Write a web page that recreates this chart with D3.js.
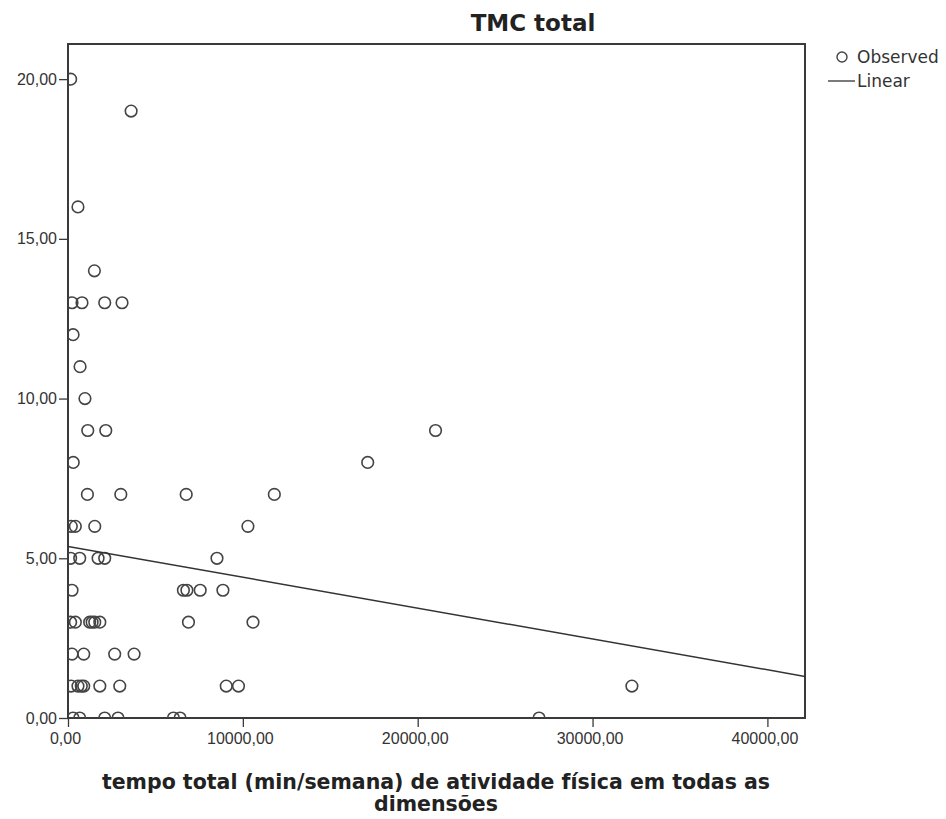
<!DOCTYPE html>
<html>
<head>
<meta charset="utf-8">
<script src="https://cdn.jsdelivr.net/npm/d3@7"></script>
<style>
  html, body { margin: 0; padding: 0; background: #ffffff; }
  svg { display: block; font-family: "Liberation Sans", Arial, sans-serif; }
</style>
</head>
<body>
<svg id="chart" width="946" height="819"></svg>
<script>
// ---- data ----
const chartTitle = "TMC total";
const xAxisTitle = ["tempo total (min/semana) de atividade física em todas as", "dimensões"];
const xTickValues = [0, 10000, 20000, 30000, 40000];
const yTickValues = [0, 5, 10, 15, 20];
const legendLabels = ["Observed", "Linear"];

// observed points: time (min/week), TMC total
const timeValues = [
  150, 3610, 570, 1510,
  230, 800, 2100, 3090,
  290, 690, 970,
  1130, 2160, 21020,
  300, 17140,
  1110, 3020, 6760, 11800,
  190, 420, 1530, 10290,
  150, 670, 1720, 2100, 8520,
  230, 6600, 6800, 7560, 8860,
  150, 420, 1240, 1380, 1530, 1820, 6890, 10580,
  230, 900, 2670, 3780,
  180, 570, 760, 900, 1820, 2960, 9050, 9750, 32250,
  290, 670, 2100, 2860, 6030, 6410, 26940
];
const tmcValues = [
  20, 19, 16, 14,
  13, 13, 13, 13,
  12, 11, 10,
  9, 9, 9,
  8, 8,
  7, 7, 7, 7,
  6, 6, 6, 6,
  5, 5, 5, 5, 5,
  4, 4, 4, 4, 4,
  3, 3, 3, 3, 3, 3, 3, 3,
  2, 2, 2, 2,
  1, 1, 1, 1, 1, 1, 1, 1, 1,
  0, 0, 0, 0, 0, 0, 0
];
// fitted linear model as shown
const linearIntercept = 5.37;
const linearSlope = -0.0000965;
const xDomain = [0, 42150];
const yDomain = [0, 21.1];

// ---- layout ----
const svg = d3.select("#chart");
const L = 68, T = 44, R = 805, B = 718;
const ink = "#3a3a3a";

const x = d3.scaleLinear().domain(xDomain).range([L, R]);
const y = d3.scaleLinear().domain(yDomain).range([B, T]);

svg.append("defs").append("clipPath").attr("id", "plotclip")
  .append("rect").attr("x", L).attr("y", T).attr("width", R - L).attr("height", B - T);

const fmt = d => d3.format(".2f")(d).replace(".", ",");

// axes
const xAxis = svg.append("g").attr("transform", `translate(0,${B})`)
  .call(d3.axisBottom(x).tickValues(xTickValues).tickSize(9).tickPadding(6).tickFormat(fmt));
const yAxis = svg.append("g").attr("transform", `translate(${L},0)`)
  .call(d3.axisLeft(y).tickValues(yTickValues).tickSize(9).tickPadding(2).tickFormat(fmt));
[xAxis, yAxis].forEach(g => {
  g.select(".domain").remove();
  g.selectAll(".tick line").attr("stroke", ink).attr("stroke-width", 1.3);
  g.selectAll(".tick text").attr("fill", "#333").style("font-size", "16px")
    .style("font-family", "'Liberation Sans', Arial, sans-serif");
});
xAxis.selectAll(".tick text").attr("dx", "-3");

// frame
svg.append("rect").attr("x", L).attr("y", T).attr("width", R - L).attr("height", B - T)
  .attr("fill", "none").attr("stroke", ink).attr("stroke-width", 2);

const plot = svg.append("g").attr("clip-path", "url(#plotclip)");

// points
const pts = timeValues.map((t, i) => ({ t, v: tmcValues[i] }));
plot.selectAll("circle.obs").data(pts).join("circle")
  .attr("class", "obs")
  .attr("cx", d => x(d.t)).attr("cy", d => y(d.v)).attr("r", 5.8)
  .attr("fill", "none").attr("stroke", "#444").attr("stroke-width", 1.6);

// linear fit
const lineData = xDomain.map(t => ({ t, v: linearIntercept + linearSlope * t }));
plot.append("path").datum(lineData)
  .attr("d", d3.line().x(d => x(d.t)).y(d => y(d.v)))
  .attr("fill", "none").attr("stroke", "#333").attr("stroke-width", 1.5);

// title
svg.append("text").attr("x", 533).attr("y", 31).attr("text-anchor", "middle")
  .attr("fill", "#222").style("font-size", "23px").style("font-weight", "bold")
  .style("font-family", "'DejaVu Sans', sans-serif")
  .text(chartTitle);

// x axis title
svg.append("text").attr("x", 436).attr("y", 789).attr("text-anchor", "middle")
  .attr("fill", "#222").style("font-size", "20.5px").style("font-weight", "bold")
  .style("font-family", "'DejaVu Sans', sans-serif")
  .selectAll("tspan").data(xAxisTitle).join("tspan")
  .attr("x", 436).attr("dy", (d, i) => i === 0 ? 0 : 22).text(d => d);

// legend
const lg = svg.append("g").style("font-family", "'DejaVu Sans', sans-serif");
lg.append("circle").attr("cx", 842).attr("cy", 57).attr("r", 5)
  .attr("fill", "none").attr("stroke", "#444").attr("stroke-width", 1.4);
lg.append("text").attr("x", 857).attr("y", 63).attr("fill", "#333")
  .style("font-size", "17px").text(legendLabels[0]);
lg.append("line").attr("x1", 828).attr("x2", 855).attr("y1", 81).attr("y2", 81)
  .attr("stroke", "#333").attr("stroke-width", 1.3);
lg.append("text").attr("x", 857).attr("y", 87).attr("fill", "#333")
  .style("font-size", "17px").text(legendLabels[1]);
</script>
</body>
</html>
